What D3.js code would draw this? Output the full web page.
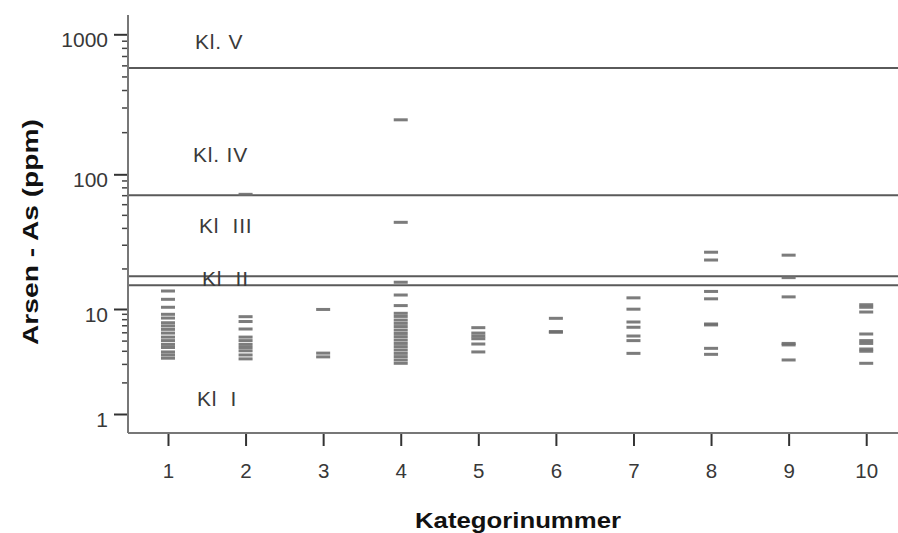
<!DOCTYPE html>
<html><head><meta charset="utf-8">
<script src="https://cdn.jsdelivr.net/npm/d3@7"></script>
<style>
html,body{margin:0;padding:0;background:#fff;}
svg{display:block;font-family:"Liberation Sans",Arial,sans-serif;}
text{white-space:pre;}
</style></head>
<body><svg id="c" width="898" height="533"></svg>
<script>
// ---- data ----
const categories = [1,2,3,4,5,6,7,8,9,10];
const cat1 = [13.6,11.8,10.3,8.9,8.2,7.4,6.9,6.4,5.9,5.4,5.0,4.6,4.3,3.9,3.65,3.4];
const cat2 = [71,8.45,7.6,6.45,5.4,5.0,4.6,4.3,4.0,3.65,3.35];
const cat3 = [9.9,3.8,3.5];
const cat4 = [245,44,15.8,12.7,10.6,9.1,8.5,7.85,7.3,6.8,6.3,5.85,5.45,5.06,4.7,4.38,4.07,3.78,3.52,3.27,3.04];
const cat5 = [6.64,5.9,5.53,5.21,4.64,3.9];
const cat6 = [8.15,6.1,6.0];
const cat7 = [12.1,9.96,7.52,6.7,5.53,5.0,3.78];
const cat8 = [26.4,23.1,13.5,11.9,7.2,7.05,4.22,3.7];
const cat9 = [25.1,17.1,12.3,4.7,4.55,3.27];
const cat10 = [10.76,10.3,9.36,5.78,5.0,4.7,4.16,3.96,3.04];
const seriesValues = [cat1,cat2,cat3,cat4,cat5,cat6,cat7,cat8,cat9,cat10];
const classLimits = [575, 70, 17.5, 15];
const classLabels = ["Kl. V","Kl. IV","Kl  III","Kl  II","Kl  I"];
const classLabelValues = [785, 122, 36.6, 14.8, 1.19];
const yMajorTicks = [1,10,100,1000];
const yMinorTicks = [2,3,4,5,6,7,8,9,20,30,40,50,60,70,80,90,200,300,400,500,600,700,800,900];
const xTickLabels = ["1","2","3","4","5","6","7","8","9","10"];

// ---- layout ----
const W = 898, H = 533;
const mLeft = 128, mBottom = 433, mTop = 15;
const svg = d3.select("#c");

const x = d3.scaleLinear().domain([0.5, 10.5]).range([129.2, 905]);
const y = d3.scaleLog()
  .domain([0.66, 1, 10, 100, 1000, 1370])
  .range([mBottom, 414, 309, 174.3, 34.3, mTop]);

// class boundary lines
svg.append("g").selectAll("line").data(classLimits).join("line")
  .attr("x1", mLeft).attr("x2", W)
  .attr("y1", d => y(d)).attr("y2", d => y(d))
  .attr("stroke", "#5a5a5a").attr("stroke-width", 2);

// class labels
const labelX = [195, 193, 199, 202, 197];
svg.append("g").selectAll("text").data(classLabels).join("text")
  .attr("x", (d,i) => labelX[i])
  .attr("y", (d,i) => y(classLabelValues[i]))
  .attr("font-size", 21).attr("letter-spacing", 0.8).attr("fill", "#3a3a3a")
  .text(d => d);

// dashes
const pts = [];
seriesValues.forEach((arr, i) => arr.forEach(v => pts.push({c: categories[i], v})));
svg.append("g").selectAll("rect").data(pts).join("rect")
  .attr("x", d => x(d.c) - 7).attr("width", 14)
  .attr("y", d => y(d.v) - 1.5).attr("height", 3)
  .attr("fill", "#6e6e6e").attr("opacity", 0.9);

// y axis
const yAxis = svg.append("g").attr("transform", `translate(${mLeft},0)`)
  .call(d3.axisLeft(y).tickValues(yMajorTicks).tickFormat(d3.format("d")).tickSize(14).tickPadding(6).tickSizeOuter(0));
yAxis.select(".domain").remove();
yAxis.selectAll(".tick line").attr("stroke", "#333").attr("stroke-width", 2);
yAxis.selectAll(".tick text").attr("font-size", 21).attr("fill", "#383838")
  .attr("font-family", '"Liberation Sans",Arial,sans-serif').attr("dy", "0.6em").attr("x", -20);

const yMinor = svg.append("g").attr("transform", `translate(${mLeft},0)`)
  .call(d3.axisLeft(y).tickValues(yMinorTicks).tickFormat("").tickSize(6).tickSizeOuter(0));
yMinor.select(".domain").remove();
yMinor.selectAll(".tick line").attr("stroke", "#444").attr("stroke-width", 1.5);

svg.append("line").attr("x1", mLeft).attr("x2", mLeft).attr("y1", mTop).attr("y2", mBottom)
  .attr("stroke", "#777").attr("stroke-width", 2);

// x axis
const xAxis = svg.append("g").attr("transform", `translate(0,${mBottom})`)
  .call(d3.axisBottom(x).tickValues(categories).tickFormat((d,i) => xTickLabels[i]).tickSize(13).tickPadding(17).tickSizeOuter(0));
xAxis.select(".domain").remove();
xAxis.selectAll(".tick line").attr("stroke", "#333").attr("stroke-width", 2);
xAxis.selectAll(".tick text").attr("font-size", 20.5).attr("fill", "#383838")
  .attr("font-family", '"Liberation Sans",Arial,sans-serif');
svg.append("line").attr("x1", mLeft).attr("x2", W).attr("y1", mBottom).attr("y2", mBottom)
  .attr("stroke", "#777").attr("stroke-width", 2);

// titles
svg.append("text").attr("x", 518).attr("y", 528).attr("text-anchor", "middle")
  .attr("font-size", 22).attr("font-weight", "bold").attr("fill", "#111")
  .attr("textLength", 206).attr("lengthAdjust", "spacingAndGlyphs")
  .text("Kategorinummer");
svg.append("text").attr("transform", "translate(38,232) rotate(-90)")
  .attr("text-anchor", "middle")
  .attr("font-size", 22).attr("font-weight", "bold").attr("fill", "#111")
  .attr("textLength", 226).attr("lengthAdjust", "spacingAndGlyphs")
  .text("Arsen - As (ppm)");
</script></body></html>
